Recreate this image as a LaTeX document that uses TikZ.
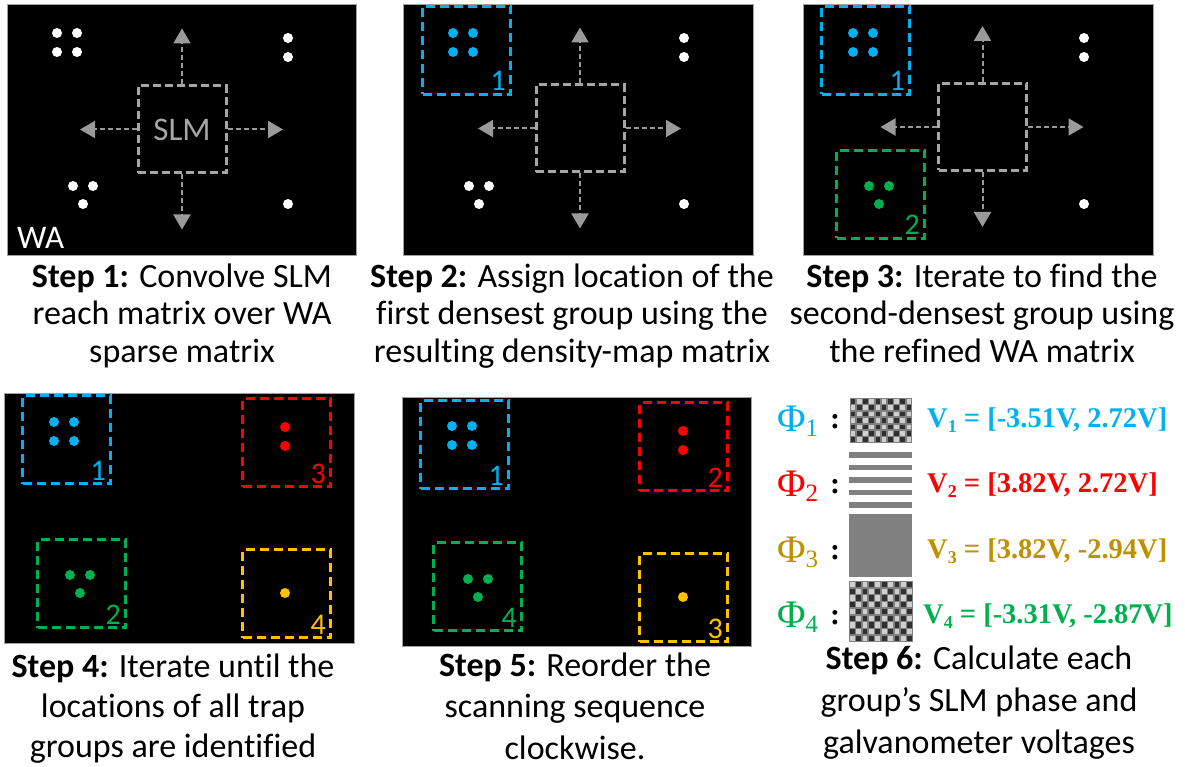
\documentclass[tikz,border=0pt]{standalone}
\usepackage{fontspec}
\setmainfont{Carlito}[Ligatures=NoCommon]
\newfontfamily\serifgreek{Liberation Serif}
\usetikzlibrary{arrows.meta,calc}

\definecolor{trapblue}{HTML}{00B0F0}
\definecolor{trapred}{HTML}{FF0000}
\definecolor{trapgreen}{HTML}{00B050}
\definecolor{trapyellow}{HTML}{FFC000}
\definecolor{voltgold}{HTML}{BF9000}
\definecolor{reachgray}{HTML}{A6A6A6}
\definecolor{arrowgray}{HTML}{9A9A9A}
\definecolor{framegray}{HTML}{A0A0A0}
\definecolor{phasegray}{HTML}{808080}
\definecolor{phasedark}{HTML}{303030}
\definecolor{phaselight}{HTML}{CFCFCF}

\tikzset{
  panel/.style={fill=black, draw=framegray, line width=0.8pt},
  trapbox/.style={draw=#1, line width=3pt, dash pattern=on 9pt off 5pt,
    minimum width=88pt, minimum height=88pt, inner sep=0pt, anchor=north west},
  trapnum/.style={text=#1, font=\fontsize{30}{30}\selectfont, inner sep=0pt, anchor=base east},
  reachbox/.style={draw=reachgray, line width=3pt, dash pattern=on 8pt off 4pt,
    minimum width=88pt, minimum height=87pt, inner sep=0pt, text=reachgray,
    font=\fontsize{33}{33}\selectfont},
  reacharrow/.style={draw=arrowgray, line width=2pt, dash pattern=on 5pt off 3pt,
    -{Triangle[width=17pt,length=15pt]}},
  caption/.style={align=center, inner sep=0pt, anchor=base, font=\fontsize{34}{#1}\selectfont},
  phirow/.style={anchor=base west, inner sep=0pt, text=#1},
  voltrow/.style={anchor=base west, inner sep=0pt, text=#1},
}

% SLM reach window with its four scan arrows: centre x, centre y, label
\newcommand\reachmap[3]{%
  \node[reachbox] (slm) at (#1,#2) {#3};
  \coordinate (up)    at (#1,#2-101);
  \coordinate (down)  at (#1,#2+100);
  \coordinate (left)  at (#1-102,#2);
  \coordinate (right) at (#1+101,#2);
  \draw[reacharrow] (slm.north) -- (up);
  \draw[reacharrow] (slm.south) -- (down);
  \draw[reacharrow] (slm.west)  -- (left);
  \draw[reacharrow] (slm.east)  -- (right);
}

% trap groups of the working area: colours of the four groups
\newcommand\trapgroups[4]{%
  \foreach \p in {(50,29),(70,29),(50,48),(70,48)} \fill[#1] \p circle (5pt);
  \foreach \p in {(281,34),(281,53)} \fill[#2] \p circle (5pt);
  \foreach \p in {(66,182),(86,182),(76,200)} \fill[#3] \p circle (5pt);
  \fill[#4] (281,200) circle (5pt);
}

% dashed group window with its scan index
\newcommand\groupbox[5]{% name, colour, x, y, index
  \node[trapbox=#2] (#1) at (#3,#4) {};
  \node[trapnum=#2] (#1-num) at ($(#1.south east)+(-6,-5)$) {#5};
}

% phase mask drawn as a two-level checkerboard
\newcommand\phasechecker[7]{% x, y, cols, rows, cell w, cell h, phase
  \fill[phasegray] (#1,#2) rectangle ++(#3*#5,#4*#6);
  \foreach \i in {1,...,#3} {
    \foreach \j in {1,...,#4} {
      \pgfmathtruncatemacro\cellparity{mod(\i+\j+#7,2)}
      \ifnum\cellparity=0
        \fill[phasedark] (#1+\i*#5-#5+0.8,#2+\j*#6-#6+0.8) rectangle ++(#5-1.6,#6-1.6);
      \else
        \fill[phaselight] (#1+\i*#5-#5+0.8,#2+\j*#6-#6+0.8) rectangle ++(#5-1.6,#6-1.6);
      \fi
    }
  }
}

\newcommand\phifont{\serifgreek\fontsize{39}{39}\selectfont}
\newcommand\phisub{\serifgreek\fontsize{25}{25}\selectfont}
\newcommand\voltfont{\serifgreek\bfseries\fontsize{28.5}{28.5}\selectfont}
\newcommand\voltsub{\serifgreek\bfseries\fontsize{18}{18}\selectfont}
\newcommand\colonfont{\serifgreek\bfseries\fontsize{30}{30}\selectfont}

\begin{document}
\begin{tikzpicture}[x=1pt, y=-1pt]
\useasboundingbox (0,0) rectangle (1185,767);

% ---- Step 1: reach matrix over the working area
\begin{scope}[shift={(7,4)}, name prefix=p1-]
  \draw[panel] (0,0) rectangle (349,251);
  \reachmap{175}{125.5}{SLM}
  \trapgroups{white}{white}{white}{white}
  \node[anchor=base west, inner sep=0pt, text=white, font=\fontsize{33}{33}\selectfont] (wa) at (10,244) {WA};
\end{scope}

% ---- Step 2: first densest group
\begin{scope}[shift={(403,4)}, name prefix=p2-]
  \draw[panel] (0,0) rectangle (350,251);
  \reachmap{177}{124.5}{}
  \trapgroups{trapblue}{white}{white}{white}
  \groupbox{g1}{trapblue}{18}{1}{1}
\end{scope}

% ---- Step 3: second densest group
\begin{scope}[shift={(803,4)}, name prefix=p3-]
  \draw[panel] (0,0) rectangle (350,251);
  \reachmap{179.5}{123}{}
  \trapgroups{trapblue}{white}{trapgreen}{white}
  \groupbox{g1}{trapblue}{17}{1}{1}
  \groupbox{g2}{trapgreen}{32}{145}{2}
\end{scope}

% ---- Step 4: all groups located
\begin{scope}[shift={(4,393)}, name prefix=p4-]
  \draw[panel] (0,0) rectangle (350,250);
  \trapgroups{trapblue}{trapred}{trapgreen}{trapyellow}
  \groupbox{g1}{trapblue}{17}{1}{1}
  \groupbox{g3}{trapred}{237}{4}{3}
  \groupbox{g2}{trapgreen}{32}{145}{2}
  \groupbox{g4}{trapyellow}{237}{155}{4}
\end{scope}

% ---- Step 5: clockwise scan order
\begin{scope}[shift={(402,397)}, name prefix=p5-]
  \draw[panel] (0,0) rectangle (349,249);
  \trapgroups{trapblue}{trapred}{trapgreen}{trapyellow}
  \groupbox{g1}{trapblue}{17}{2}{1}
  \groupbox{g2}{trapred}{236}{4}{2}
  \groupbox{g4}{trapgreen}{30}{144}{4}
  \groupbox{g3}{trapyellow}{236}{155}{3}
\end{scope}

% ---- Step 6: phase masks and galvanometer voltages
\phasechecker{850}{398}{10}{7}{6.2}{6.43}{0}
\foreach \s in {452,464.5,477,489.5,502}
  \fill[phasegray] (849,\s) rectangle (912,\s+5.5);
\fill[phasegray] (849,514) rectangle (912,577);
\phasechecker{849}{581}{10}{9}{6.4}{6.78}{1}

\node[phirow=trapblue]   (phi1) at (777,431) {\phifont Φ\raisebox{-5pt}{\phisub 1}};
\node[phirow=trapred]    (phi2) at (777,496.5) {\phifont Φ\raisebox{-5pt}{\phisub 2}};
\node[phirow=voltgold]   (phi3) at (777,562) {\phifont Φ\raisebox{-5pt}{\phisub 3}};
\node[phirow=trapgreen]  (phi4) at (777,627) {\phifont Φ\raisebox{-5pt}{\phisub 4}};

\foreach \r/\y in {1/428,2/493.5,3/559,4/624}
  \node[anchor=base, inner sep=0pt] (colon\r) at (835,\y) {\colonfont :};

\node[voltrow=trapblue]  (volt1) at (927,427) {\voltfont V\raisebox{-5pt}{\voltsub 1} = [-3.51V, 2.72V]};
\node[voltrow=trapred]   (volt2) at (927,492) {\voltfont V\raisebox{-5pt}{\voltsub 2} = [3.82V, 2.72V]};
\node[voltrow=voltgold]  (volt3) at (927,558) {\voltfont V\raisebox{-5pt}{\voltsub 3} = [3.82V, -2.94V]};
\node[voltrow=trapgreen] (volt4) at (923,623) {\voltfont V\raisebox{-5pt}{\voltsub 4} = [-3.31V, -2.87V]};

% ---- captions (anchored at the baseline of their last line)
\node[caption=37.5] (cap1) at (182,362) {\textbf{Step 1:} Convolve SLM\\reach matrix over WA\\sparse matrix};
\node[caption=37.5] (cap2) at (572,362) {\textbf{Step 2:} Assign location of the\\first densest group using the\\resulting density-map matrix};
\node[caption=37.5] (cap3) at (982,362) {\textbf{Step 3:} Iterate to find the\\second-densest group using\\the refined WA matrix};
\node[caption=40] (cap4) at (173,757) {\textbf{Step 4:} Iterate until the\\locations of all trap\\groups are identified};
\node[caption=41.5] (cap5) at (575,759) {\textbf{Step 5:} Reorder the\\scanning sequence\\clockwise.};
\node[caption=42] (cap6) at (979,753) {\textbf{Step 6:} Calculate each\\group’s SLM phase and\\galvanometer voltages};
\end{tikzpicture}
\end{document}
